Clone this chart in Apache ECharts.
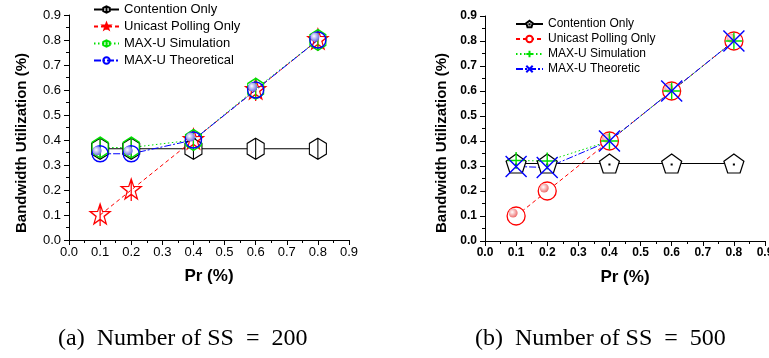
<!DOCTYPE html>
<html><head><meta charset="utf-8">
<script src="https://cdn.jsdelivr.net/npm/echarts@6/dist/echarts.min.js"></script>
<style>html,body{margin:0;padding:0;background:#fff}#c{width:769px;height:358px}</style>
</head><body><div id="c"></div>
<script>
// ---------- data ----------
const prValues = [0.1, 0.2, 0.4, 0.6, 0.8];
const tickLabels = ['0.0','0.1','0.2','0.3','0.4','0.5','0.6','0.7','0.8','0.9'];
// (a) Number of SS = 200
const contentionA  = [0.365, 0.365, 0.365, 0.365, 0.365];
const unicastA     = [0.10, 0.20, 0.40, 0.60, 0.80];
const simulationA  = [0.37, 0.37, 0.40, 0.605, 0.80];
const theoreticalA = [0.345, 0.345, 0.40, 0.60, 0.80];
// (b) Number of SS = 500
const contentionB  = [0.31, 0.31, 0.31, 0.31, 0.31];
const unicastB     = [0.10, 0.20, 0.40, 0.60, 0.80];
const simulationB  = [0.322, 0.32, 0.40, 0.60, 0.80];
const theoreticalB = [0.298, 0.294, 0.40, 0.60, 0.80];
const namesA = ['Contention Only', 'Unicast Polling Only', 'MAX-U Simulation', 'MAX-U Theoretical'];
const namesB = ['Contention Only', 'Unicast Polling Only', 'MAX-U Simulation', 'MAX-U Theoretic'];
const captions = ['(a)  Number of SS  =  200', '(b)  Number of SS  =  500'];
const axisTitles = ['Pr (%)', 'Bandwidth Utilization (%)'];

// ---------- helpers ----------
const pairs = ys => prValues.map((x, i) => [x, ys[i]]);
const tagA = n => n + ' [a]';
const tagB = n => n + ' [b]';
const strip = n => n.replace(/ \[[ab]\]$/, '');

const HEX = 'path://M10,0 L18.66,5 L18.66,15 L10,20 L1.34,15 L1.34,5 Z M10,0 L10,20';
const STAR = 'path://M0,-10 L2.35,-3.24 L9.51,-3.09 L3.8,1.24 L5.88,8.09 L0,4 L-5.88,8.09 L-3.8,1.24 L-9.51,-3.09 L-2.35,-3.24 Z M0,-10 L0,10';
const PENT = 'path://M0,-10 L9.51,-3.09 L5.88,8.09 L-5.88,8.09 L-9.51,-3.09 Z M-0.4,-0.4 L0.4,-0.4 L0.4,0.4 L-0.4,0.4 Z';
const PLUS = 'path://M0,10 L20,10 M10,0 L10,20';
const CROSS = 'path://M0,0 L20,20 M20,0 L0,20';

function xAxis(gi, bold, fs) {
  return {
    type: 'value', gridIndex: gi, min: 0, max: 0.9, interval: 0.1,
    name: axisTitles[0], nameLocation: 'middle', nameGap: 28, nameMoveOverlap: false,
    nameTextStyle: { fontFamily: 'Liberation Sans', fontWeight: 'bold', fontSize: 17, color: '#000' },
    axisLine: { onZero: false, lineStyle: { color: '#000', width: 1 } },
    axisTick: { length: 5, lineStyle: { color: '#000' } },
    minorTick: { show: true, splitNumber: 2, length: 3, lineStyle: { color: '#000' } },
    splitLine: { show: false }, minorSplitLine: { show: false },
    axisLabel: { formatter: v => tickLabels[Math.round(v * 10)], showMinLabel: true, showMaxLabel: true,
      fontFamily: 'Liberation Sans', fontSize: fs, fontWeight: bold ? 'bold' : 'normal', color: '#000', margin: 6 }
  };
}
function yAxis(gi, bold, fs) {
  return {
    type: 'value', gridIndex: gi, min: 0, max: 0.9, interval: 0.1,
    axisLine: { onZero: false, lineStyle: { color: '#000', width: 1 } },
    axisTick: { length: 5, lineStyle: { color: '#000' } },
    minorTick: { show: true, splitNumber: 2, length: 3, lineStyle: { color: '#000' } },
    splitLine: { show: false }, minorSplitLine: { show: false },
    axisLabel: { formatter: v => tickLabels[Math.round(v * 10)], showMinLabel: true, showMaxLabel: true,
      fontFamily: 'Liberation Sans', fontSize: fs, fontWeight: bold ? 'bold' : 'normal', color: '#000', margin: 8 }
  };
}
function line(name, gi, ys, color, dash, symbol, size, fill, bw) {
  return {
    type: 'line', name, xAxisIndex: gi, yAxisIndex: gi, data: pairs(ys),
    symbol, symbolSize: size, showAllSymbol: true,
    lineStyle: { color, width: 1, type: dash },
    itemStyle: { color: fill, borderColor: color, borderWidth: bw },
    emphasis: { disabled: true }, animation: false
  };
}
function sphere(name, gi, ys, c) {
  return {
    type: 'line', name, xAxisIndex: gi, yAxisIndex: gi, data: pairs(ys),
    symbol: 'circle', symbolSize: 9, symbolOffset: [-3, -3], showAllSymbol: true,
    lineStyle: { width: 0, opacity: 0 }, silent: true, animation: false,
    emphasis: { disabled: true },
    itemStyle: { borderWidth: 0, color: new echarts.graphic.RadialGradient(0.4, 0.4, 0.6,
      [{ offset: 0, color: '#ffffff' }, { offset: 1, color: c }]) }
  };
}
function yTitle(x, y, weight) {
  return { type: 'text', x, y, rotation: Math.PI / 2,
    style: { text: axisTitles[1], fontFamily: 'Liberation Sans', fontWeight: 'bold', fontSize: 15, fill: '#000',
      align: 'center', verticalAlign: 'middle' } };
}

const GREEN = '#00e000', RED = '#ff0000', BLUE = '#0000ff';
const legendText = fs => ({ fontFamily: 'Liberation Sans', fontSize: fs, color: '#000' });

const option = {
  backgroundColor: '#fff',
  animation: false,
  grid: [
    { left: 69, top: 15, width: 280, height: 225, outerBoundsMode: 'none', containLabel: false },
    { left: 485, top: 16, width: 280, height: 225, outerBoundsMode: 'none', containLabel: false }
  ],
  xAxis: [xAxis(0, false, 13), xAxis(1, true, 12)],
  yAxis: [yAxis(0, false, 13), yAxis(1, true, 12)],
  legend: [
    { orient: 'vertical', left: 93, top: 3, padding: 0, itemWidth: 25, itemHeight: 8, itemGap: 4,
      selectedMode: false, data: namesA.map(tagA), formatter: strip, textStyle: legendText(13) },
    { orient: 'vertical', left: 515, top: 18, padding: 0, itemWidth: 27, itemHeight: 8, itemGap: 3,
      selectedMode: false, data: namesB.map(tagB), formatter: strip, textStyle: legendText(12) }
  ],
  series: [
    line(tagA(namesA[0]), 0, contentionA, '#000', 'solid', HEX, [17, 21], '#fff', 1.2),
    line(tagA(namesA[1]), 0, unicastA, RED, [4, 3], STAR, [20, 22], 'rgba(0,0,0,0)', 1.3),
    line(tagA(namesA[2]), 0, simulationA, GREEN, [1.5, 2.5], HEX, [16, 21], 'rgba(0,0,0,0)', 1.3),
    line(tagA(namesA[3]), 0, theoreticalA, BLUE, [7, 2, 2, 2], 'circle', 16, 'rgba(0,0,0,0)', 1.4),
    sphere('sphereA', 0, theoreticalA, '#6f6fe6'),
    line(tagB(namesB[0]), 1, contentionB, '#000', 'solid', PENT, [20, 19], '#fff', 1.2),
    line(tagB(namesB[1]), 1, unicastB, RED, [4, 3], 'circle', 18, '#fff', 1.3),
    sphere('sphereB', 1, unicastB, '#ee7070'),
    line(tagB(namesB[2]), 1, simulationB, GREEN, [1.5, 2.5], PLUS, 17, 'rgba(0,0,0,0)', 1.4),
    line(tagB(namesB[3]), 1, theoreticalB, BLUE, [7, 2, 2, 2], CROSS, [21, 21], 'rgba(0,0,0,0)', 1.4)
  ],
  graphic: [
    yTitle(22, 143),
    yTitle(442, 143),
    { type: 'text', left: 58, top: 327, style: { text: captions[0], fontFamily: 'Liberation Serif', fontSize: 24, fill: '#000' } },
    { type: 'text', left: 475, top: 327, style: { text: captions[1], fontFamily: 'Liberation Serif', fontSize: 24, fill: '#000' } }
  ]
};
const chart = echarts.init(document.getElementById('c'), null, { renderer: 'canvas' });
chart.setOption(option);
</script></body></html>
